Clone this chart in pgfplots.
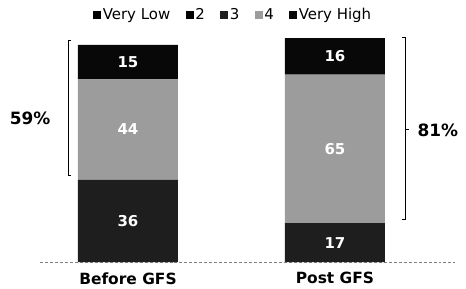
\documentclass[border=0pt]{standalone}
\usepackage{pgfplots}
\pgfplotsset{compat=1.18}
\usepackage{fontspec}
\setmainfont{DejaVu Sans}
\definecolor{cthree}{HTML}{1E1E1E}
\definecolor{cfour}{HTML}{9C9C9C}
\definecolor{chigh}{HTML}{080808}
\tikzset{barlbl/.style={text=white, font=\fontsize{15}{17}\selectfont\bfseries}}
\begin{document}
\begin{tikzpicture}
\path[use as bounding box] (0,0) rectangle (466bp,289bp);
\begin{axis}[
  at={(40bp,27bp)}, anchor=south west,
  scale only axis, width=415bp, height=262bp,
  xmin=-0.425, xmax=1.58, ymin=0, ymax=114.7,
  ybar stacked, bar width=0.483,
  axis y line=none, axis x line=bottom,
  x axis line style={gray, densely dashed, -},
  xtick={0,1}, xticklabels={Before GFS, Post GFS},
  xticklabel style={font=\fontsize{15.5}{17}\selectfont\bfseries, yshift=-7bp},
  major tick length=0,
  clip=false,
  legend columns=5,
  legend image code/.code={\fill[#1] (0bp,-4bp) rectangle (8bp,4bp);},
  legend style={at={(0.465,0.9425)}, anchor=center, draw=none, fill=none,
    font=\fontsize{15}{17}\selectfont,
    nodes={inner xsep=1.5bp},
    /tikz/every odd column/.append style={column sep=0bp},
    /tikz/every even column/.append style={column sep=14bp}},
]
\addplot[fill=black, draw=none] coordinates {(0,0) (1,0)};
\addlegendentry{Very Low}
\addplot[fill=black, draw=none] coordinates {(0,0) (1,0)};
\addlegendentry{2}
\addplot[fill=cthree, draw=none] coordinates {(0,36) (1,17)};
\addlegendentry{3}
\addplot[fill=cfour, draw=none] coordinates {(0,44) (1,65)};
\addlegendentry{4}
\addplot[fill=chigh, draw=none] coordinates {(0,15) (1,16)};
\addlegendentry{Very High}

\coordinate (a1) at (axis cs:0,18);
\coordinate (a2) at (axis cs:0,58);
\coordinate (a3) at (axis cs:0,87.5);
\coordinate (b1) at (axis cs:1,8.5);
\coordinate (b2) at (axis cs:1,49.5);
\coordinate (b3) at (axis cs:1,90);

\draw[line width=0.8pt] (axis cs:-0.275,97) -- (axis cs:-0.29,97) -- (axis cs:-0.29,38) -- (axis cs:-0.275,38);
\draw[line width=0.8pt] (axis cs:1.323,98.5) -- (axis cs:1.338,98.5) -- (axis cs:1.338,18.5) -- (axis cs:1.323,18.5);
\draw[line width=0.8pt] (axis cs:1.338,58) -- (axis cs:1.357,58);
\node[font=\fontsize{17}{19}\selectfont\bfseries] at (axis cs:-0.473,63) {59\%};
\node[font=\fontsize{17}{19}\selectfont\bfseries] at (axis cs:1.497,57.8) {81\%};
\end{axis}
\node[barlbl] at (a1) {36};
\node[barlbl] at (a2) {44};
\node[barlbl] at (a3) {15};
\node[barlbl] at (b1) {17};
\node[barlbl] at (b2) {65};
\node[barlbl] at (b3) {16};
\end{tikzpicture}
\end{document}
